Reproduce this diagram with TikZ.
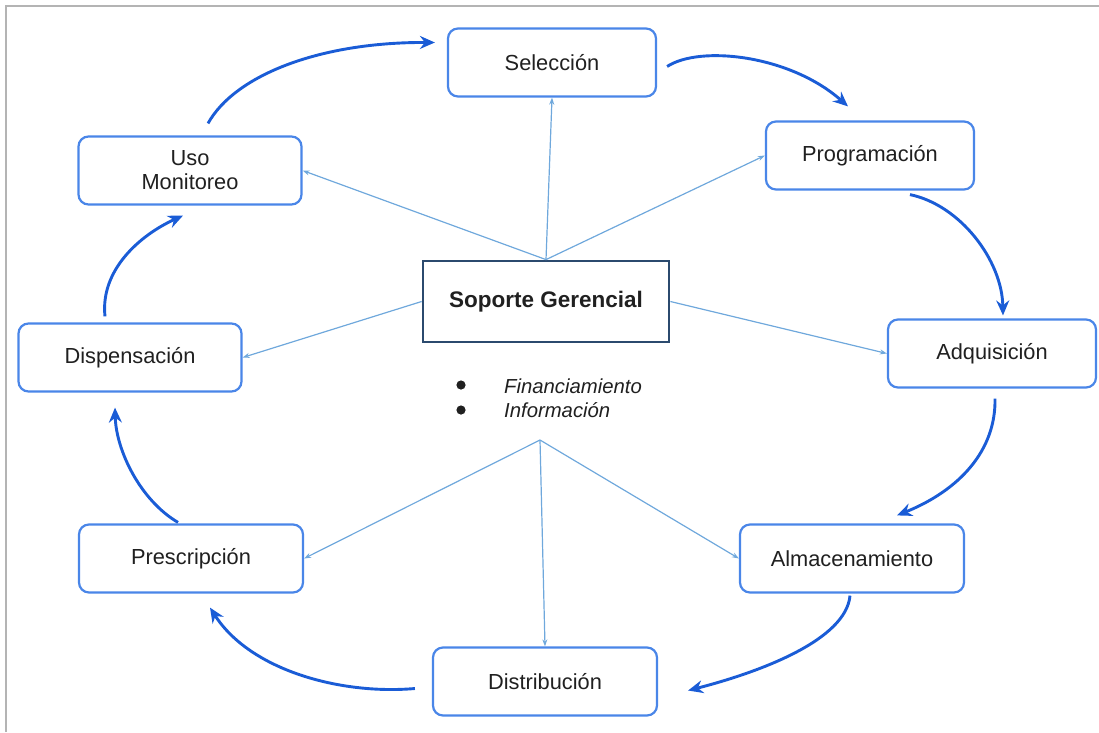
\documentclass[tikz,border=0pt]{standalone}
\usepackage{fontspec}
\setmainfont{Liberation Sans}
\usetikzlibrary{arrows.meta,calc}
\definecolor{boxblue}{HTML}{4A86E8}
\definecolor{cycblue}{HTML}{1A5CD6}
\definecolor{thinblue}{HTML}{6FA8DC}
\definecolor{navy}{HTML}{2B4A6E}
\definecolor{txt}{HTML}{202020}
\definecolor{frame}{HTML}{B4B4B4}
\tikzset{
  stage/.style={draw=boxblue, line width=2.2pt, rounded corners=10pt, fill=white,
    minimum width=#1, minimum height=68pt, inner sep=0pt, align=center,
    text=txt, font=\fontsize{21.8}{25}\selectfont},
  stage/.default=208pt,
  hubbox/.style={draw=navy, line width=2.8pt, fill=white, minimum width=246pt,
    minimum height=81pt, inner sep=0pt, text=txt, font=\fontsize{22.5}{26}\selectfont\bfseries},
  cyc/.style={draw=cycblue, line width=2.9pt, -{Stealth[length=15pt,width=13pt,inset=5pt]}},
  spoke/.style={draw=thinblue, line width=1.2pt, -{Stealth[length=7pt,width=5pt]}},
  item/.style={text=txt, font=\fontsize{20.3}{24}\selectfont\itshape, anchor=west, inner sep=0pt}
}
\begin{document}
\begin{tikzpicture}[x=1pt,y=-1pt]
\useasboundingbox (0,0) rectangle (1099,732);
% frame
\draw[frame, line width=1.6pt] (6,732) -- (6,6) -- (1099,6);

% nodes
\node[stage] (sel) at (552,62.5) {Selección};
\node[stage] (prog) at (870,155.5) {Programación};
\node[stage] (adq) at (992,353.5) {Adquisición};
\node[stage=224pt] (alm) at (852,558.5) {Almacenamiento};
\node[stage=224pt] (dist) at (545,681.5) {Distribución};
\node[stage=224pt] (presc) at (191,558.5) {Prescripción};
\node[stage=223pt] (disp) at (130,357.5) {Dispensación};
\node[stage=223pt] (uso) at (190,170.5) {Uso\\[-1pt]Monitoreo};
\node[hubbox] (sg) at (546,301.5) {Soporte Gerencial};

% bullets
\fill[txt] (461,385) circle (4.6pt) coordinate (b1);
\fill[txt] (461,410) circle (4.6pt) coordinate (b2);
\node[item] (fin) at (504,386) {Financiamiento};
\node[item] (inf) at (504,410) {Información};

% spokes
\coordinate (hub) at (540,440);
\draw[spoke] (sg.north) -- (sel.south);
\draw[spoke] (sg.north) -- (prog.west);
\draw[spoke] (sg.north) -- (uso.east);
\draw[spoke] (sg.west) -- (disp.east);
\draw[spoke] (sg.east) -- (adq.west);
\draw[spoke] (hub) -- (presc.east);
\draw[spoke] (hub) -- (dist.north);
\draw[spoke] (hub) -- (alm.west);

% cycle
\draw[cyc] ([shift={(18,-12)}]uso.north) .. controls (235,75) and (320,42) .. ([shift={(-12,-20)}]sel.west);
\draw[cyc] ([shift={(10,4)}]sel.east) .. controls (700,45) and (790,55) .. ([shift={(-22,-14)}]prog.north);
\draw[cyc] ([shift={(40,4)}]prog.south) .. controls (960,205) and (1002,260) .. ([shift={(11,-3)}]adq.north);
\draw[cyc] ([shift={(3,10)}]adq.south) .. controls (996,450) and (960,490) .. ([shift={(45,-8)}]alm.north);
\draw[cyc] ([shift={(-2,2)}]alm.south) .. controls (846,640) and (760,672) .. ([shift={(30,9)}]dist.east);
\draw[cyc] ([shift={(-17,7)}]dist.west) .. controls (340,695) and (250,670) .. ([shift={(19,14)}]presc.south);
\draw[cyc] ([shift={(-13,-1)}]presc.north) .. controls (140,500) and (116,450) .. ([shift={(-15,15)}]disp.south);
\draw[cyc] ([shift={(-25,-6)}]disp.north) .. controls (100,270) and (140,235) .. ([shift={(-7,10)}]uso.south);
\end{tikzpicture}
\end{document}
